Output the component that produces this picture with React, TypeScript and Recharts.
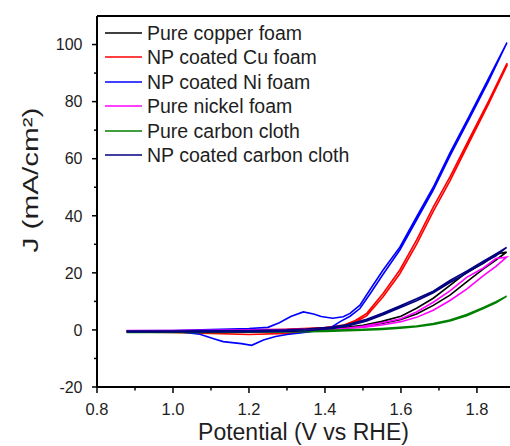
import React from 'react';
import { LineChart, Line, XAxis, YAxis, ReferenceLine, Legend, Label } from 'recharts';

const FONT = '"Liberation Sans", Arial, Helvetica, sans-serif';
const TEXT = '#1e1e1e';

// ---- axes ----
const xTicks = [0.8, 0.9, 1.0, 1.1, 1.2, 1.3, 1.4, 1.5, 1.6, 1.7, 1.8];
const xTickLabels = ['0.8', '1.0', '1.2', '1.4', '1.6', '1.8'];
const yTicks = [-20, -10, 0, 10, 20, 30, 40, 50, 60, 70, 80, 90, 100];
const yTickLabels = ['-20', '0', '20', '40', '60', '80', '100'];
const xDomain = [0.8, 1.887];
const yDomain = [-20, 110];

// ---- series: potential (V vs RHE) and current density (mA/cm2), forward + reverse scan ----
const cuPureV = [0.878, 1.0, 1.1, 1.2, 1.3, 1.4, 1.45, 1.5, 1.55, 1.6, 1.641, 1.685, 1.729, 1.773, 1.817, 1.85, 1.878,
  1.85, 1.817, 1.773, 1.729, 1.685, 1.641, 1.6, 1.55, 1.5, 1.45, 1.4, 1.3, 1.2, 1.1, 1.0, 0.878];
const cuPureJ = [-0.3, -0.3, -0.2, -0.1, 0.1, 0.4, 0.8, 1.4, 2.3, 3.7, 5.6, 8.6, 12.2, 16.8, 21.4, 24.5, 27.3,
  26.5, 23.3, 20.2, 15.6, 11.1, 7.6, 4.8, 3.0, 1.6, 0.8, 0.3, 0, -0.4, -0.6, -0.7, -0.7];

const cuNpV = [0.878, 1.0, 1.1, 1.2, 1.3, 1.4, 1.45, 1.48, 1.51, 1.553, 1.597, 1.641, 1.685, 1.729, 1.78, 1.83, 1.879,
  1.879, 1.83, 1.78, 1.729, 1.685, 1.641, 1.597, 1.553, 1.51, 1.48, 1.45, 1.4, 1.3, 1.2, 1.1, 1.0, 0.878];
const cuNpJ = [-0.5, -0.4, -0.2, 0, 0.2, 0.8, 1.7, 3.3, 5.8, 12.8, 21, 31.5, 43, 53.6, 67, 80, 93.4,
  92.6, 79, 65.8, 52.2, 41.5, 30, 19.7, 11.6, 5, 2.7, 1.2, 0, -1.2, -1.6, -1.2, -0.9, -0.7];

const niNpV = [0.878, 1.0, 1.1, 1.2, 1.25, 1.28, 1.31, 1.343, 1.37, 1.39, 1.42, 1.448, 1.466, 1.492, 1.518, 1.553, 1.597, 1.641, 1.685, 1.729, 1.78, 1.83, 1.879,
  1.83, 1.78, 1.729, 1.685, 1.641, 1.597, 1.553, 1.518, 1.492, 1.466, 1.44, 1.413, 1.38, 1.34, 1.3, 1.27, 1.238, 1.207, 1.18, 1.132, 1.105, 1.089, 1.071, 1.02, 0.878];
const niNpJ = [-0.3, -0.2, 0.1, 0.5, 0.9, 2.5, 4.7, 6.3, 5.6, 4.7, 4.1, 4.6, 5.8, 8.7, 14, 21, 29, 39.6, 50, 62, 75, 88, 100.7,
  87, 74, 61, 49, 38.5, 28, 19.5, 12.5, 7.5, 4.8, 2.9, 0.6, -0.3, -1.0, -1.6, -2.3, -3.5, -5.4, -4.8, -4.1, -3.0, -2.3, -1.5, -0.7, -0.5];

const niPureV = [0.878, 1.0, 1.1, 1.2, 1.3, 1.4, 1.45, 1.5, 1.55, 1.6, 1.641, 1.685, 1.729, 1.773, 1.817, 1.85, 1.878,
  1.85, 1.817, 1.773, 1.729, 1.685, 1.641, 1.6, 1.55, 1.5, 1.45, 1.4, 1.3, 1.2, 1.1, 1.0, 0.878];
const niPureJ = [-0.2, -0.2, -0.1, 0, 0.1, 0.3, 0.5, 0.9, 1.7, 2.9, 4.4, 6.9, 10.3, 14.3, 19.0, 22.3, 25.5,
  25.0, 21.7, 18.4, 13.7, 9.7, 6.3, 3.9, 2.5, 1.3, 0.5, 0.1, -0.2, -0.4, -0.5, -0.5, -0.4];

const ccPureV = [0.878, 1.0, 1.1, 1.2, 1.3, 1.4, 1.5, 1.55, 1.597, 1.641, 1.685, 1.729, 1.773, 1.817, 1.85, 1.878,
  1.85, 1.817, 1.773, 1.729, 1.685, 1.641, 1.597, 1.55, 1.5, 1.4, 1.3, 1.2, 1.1, 1.0, 0.878];
const ccPureJ = [-0.6, -0.6, -0.5, -0.4, -0.3, -0.1, 0.2, 0.5, 0.9, 1.4, 2.2, 3.5, 5.4, 7.9, 9.9, 11.8,
  9.5, 7.5, 5.0, 3.1, 1.9, 1.1, 0.6, 0.2, -0.1, -0.5, -0.7, -0.8, -0.9, -0.9, -0.9];

const ccNpV = [0.878, 1.0, 1.1, 1.2, 1.3, 1.35, 1.42, 1.46, 1.51, 1.553, 1.597, 1.641, 1.685, 1.729, 1.773, 1.817, 1.85, 1.878,
  1.85, 1.817, 1.773, 1.729, 1.685, 1.641, 1.597, 1.553, 1.51, 1.46, 1.42, 1.35, 1.3, 1.2, 1.1, 1.0, 0.878];
const ccNpJ = [-0.4, -0.4, -0.3, -0.2, 0, 0.3, 1.0, 1.9, 3.7, 5.9, 8.4, 10.9, 13.6, 17.3, 20.6, 24.1, 26.6, 28.9,
  26.0, 23.5, 19.9, 16.6, 13.0, 10.2, 7.8, 5.3, 3.1, 1.4, 0.5, -0.3, -0.5, -0.7, -0.7, -0.7, -0.7];

const zip = (v: number[], j: number[]) => v.map((x, i) => ({ v: x, j: j[i] }));

const series = [
  { name: 'Pure copper foam', color: '#000000', data: zip(cuPureV, cuPureJ) },
  { name: 'NP coated Cu foam', color: '#ff0000', data: zip(cuNpV, cuNpJ) },
  { name: 'NP coated Ni foam', color: '#0000ff', data: zip(niNpV, niNpJ) },
  { name: 'Pure nickel foam', color: '#ff00ff', data: zip(niPureV, niPureJ) },
  { name: 'Pure carbon cloth', color: '#008000', data: zip(ccPureV, ccPureJ) },
  { name: 'NP coated carbon cloth', color: '#000080', data: zip(ccNpV, ccNpJ) },
];

const XTick = (props: any) => {
  const { x, y, payload } = props;
  const label = xTickLabels.find((l) => Math.abs(parseFloat(l) - payload.value) < 1e-6);
  return (
    <g>
      <line x1={x} x2={x} y1={y} y2={y + (label ? 6 : 3.5)} stroke="#000" strokeWidth={1.5} />
      {label && (
        <text x={x} y={y + 27.5} textAnchor="middle" fontSize={16.5} fontFamily={FONT} fill={TEXT}>
          {label}
        </text>
      )}
    </g>
  );
};

const YTick = (props: any) => {
  const { x, y, payload } = props;
  const label = yTickLabels.find((l) => Math.abs(parseFloat(l) - payload.value) < 1e-6);
  return (
    <g>
      <line x1={x - (label ? 5 : 3)} x2={x} y1={y} y2={y} stroke="#000" strokeWidth={1.5} />
      {label && (
        <text x={x - 14.5} y={y + 5.8} textAnchor="end" fontSize={16} fontFamily={FONT} fill={TEXT}>
          {label}
        </text>
      )}
    </g>
  );
};

const renderLegend = () => (
  <div style={{ fontFamily: FONT, fontSize: 19.5, color: TEXT }}>
    {series.map((s) => (
      <div key={s.name} style={{ display: 'flex', alignItems: 'center', height: 24.5, whiteSpace: 'nowrap' }}>
        <svg width={37} height={6} style={{ marginRight: 5, display: 'block' }}>
          <line x1={0} x2={37} y1={3} y2={3} stroke={s.color} strokeWidth={1.6} />
        </svg>
        <span style={{ lineHeight: '24.5px' }}>{s.name}</span>
      </div>
    ))}
  </div>
);

export default function App() {
  return (
    <div style={{ position: 'absolute', left: 0, top: 0, background: '#fff' }}>
      <LineChart width={510} height={446} margin={{ top: 16, right: 0, bottom: 0, left: 0 }}>
        <XAxis
          dataKey="v"
          type="number"
          domain={xDomain}
          ticks={xTicks}
          interval={0}
          allowDataOverflow
          height={59}
          tickLine={false}
          tickSize={0}
          tickMargin={0}
          tick={<XTick />}
          axisLine={{ stroke: '#000', strokeWidth: 2 }}
        >
          <Label
            content={(p: any) => {
              const vb = p.viewBox;
              return (
                <text x={vb.x + vb.width / 2} y={440} textAnchor="middle" fontSize={23} fontFamily={FONT} fill={TEXT}>
                  Potential (V vs RHE)
                </text>
              );
            }}
          />
        </XAxis>
        <YAxis
          type="number"
          domain={yDomain}
          ticks={yTicks}
          interval={0}
          allowDataOverflow
          width={97}
          tickLine={false}
          tickSize={0}
          tickMargin={0}
          tick={<YTick />}
          axisLine={{ stroke: '#000', strokeWidth: 2 }}
        >
          <Label
            content={() => (
              <text
                x={38}
                y={180}
                transform="rotate(-90 38 180)"
                textAnchor="middle"
                fontSize={22}
                textLength={145}
                lengthAdjust="spacingAndGlyphs"
                fontFamily={FONT}
                fill={TEXT}
              >
                J (mA/cm²)
              </text>
            )}
          />
        </YAxis>
        <ReferenceLine y={110} stroke="#000" strokeWidth={2} />
        <Legend
          layout="vertical"
          align="center"
          verticalAlign="middle"
          content={renderLegend}
          wrapperStyle={{ left: 105, top: 20.5, width: 320, height: 150 }}
        />
        {series.map((s) => (
          <Line
            key={s.name}
            data={s.data}
            dataKey="j"
            name={s.name}
            type="linear"
            stroke={s.color}
            strokeWidth={1.6}
            dot={false}
            activeDot={false}
            isAnimationActive={false}
          />
        ))}
      </LineChart>
    </div>
  );
}
